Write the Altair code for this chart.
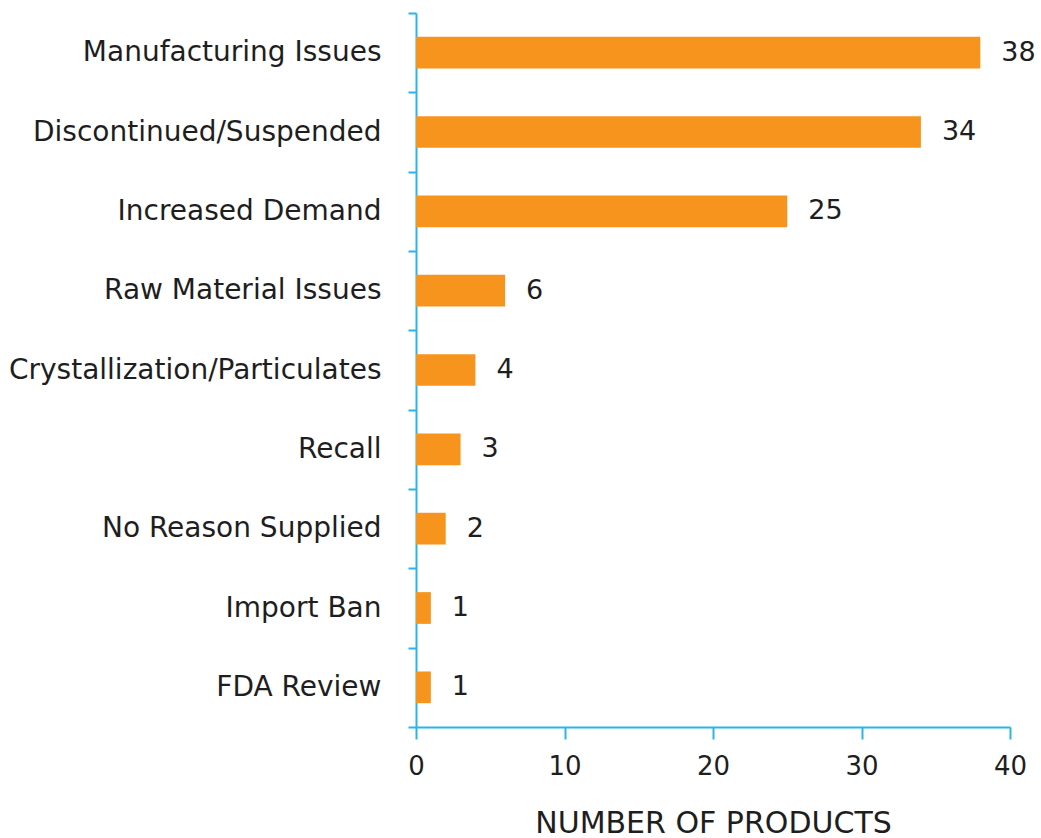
import altair as alt
import pandas as pd

categories = ["Manufacturing Issues", "Discontinued/Suspended", "Increased Demand",
              "Raw Material Issues", "Crystallization/Particulates", "Recall",
              "No Reason Supplied", "Import Ban", "FDA Review"]
values = [38, 34, 25, 6, 4, 3, 2, 1, 1]
x_ticks = [0, 10, 20, 30, 40]

df = pd.DataFrame({"reason": categories, "count": values})

AXIS_COLOR = "#29B5E8"
TEXT_COLOR = "#1E1E1E"
FONT = "DejaVu Sans"

y_enc = alt.Y("reason:N", sort=categories, title=None,
              scale=alt.Scale(paddingInner=0, paddingOuter=0),
              axis=alt.Axis(tickBand="extent", tickSize=8, tickColor=AXIS_COLOR,
                            domainColor=AXIS_COLOR, domainWidth=2, tickWidth=2,
                            labelFontSize=28, labelFont=FONT, labelColor=TEXT_COLOR,
                            labelPadding=27, labelLimit=500))
x_enc = alt.X("count:Q", title="NUMBER OF PRODUCTS",
              scale=alt.Scale(domain=[0, 40], nice=False),
              axis=alt.Axis(values=x_ticks, grid=False, tickSize=12, tickColor=AXIS_COLOR,
                            domainColor=AXIS_COLOR, domainWidth=2, tickWidth=2,
                            labelFontSize=26, labelFont=FONT, labelColor=TEXT_COLOR,
                            labelFlush=False,
                            labelPadding=14, titleFontSize=30, titleFont=FONT,
                            titleFontWeight="normal", titleColor=TEXT_COLOR,
                            titlePadding=29))

bars = alt.Chart(df).mark_bar(color="#F7941D", height=alt.RelativeBandSize(0.4)).encode(
    y=y_enc, x=x_enc)
labels = alt.Chart(df).mark_text(align="left", baseline="middle", dx=21,
                                 fontSize=27, font=FONT, color=TEXT_COLOR).encode(
    y=alt.Y("reason:N", sort=categories), x="count:Q", text="count:Q")

chart = (bars + labels).properties(
    width=594, height=714,
    autosize=alt.AutoSizeParams(type="none"),
    padding={"left": 416, "top": 13, "right": 31, "bottom": 111},
).configure_view(stroke=None)

chart.save("out.html", embed_options={"renderer": "svg", "actions": False})
